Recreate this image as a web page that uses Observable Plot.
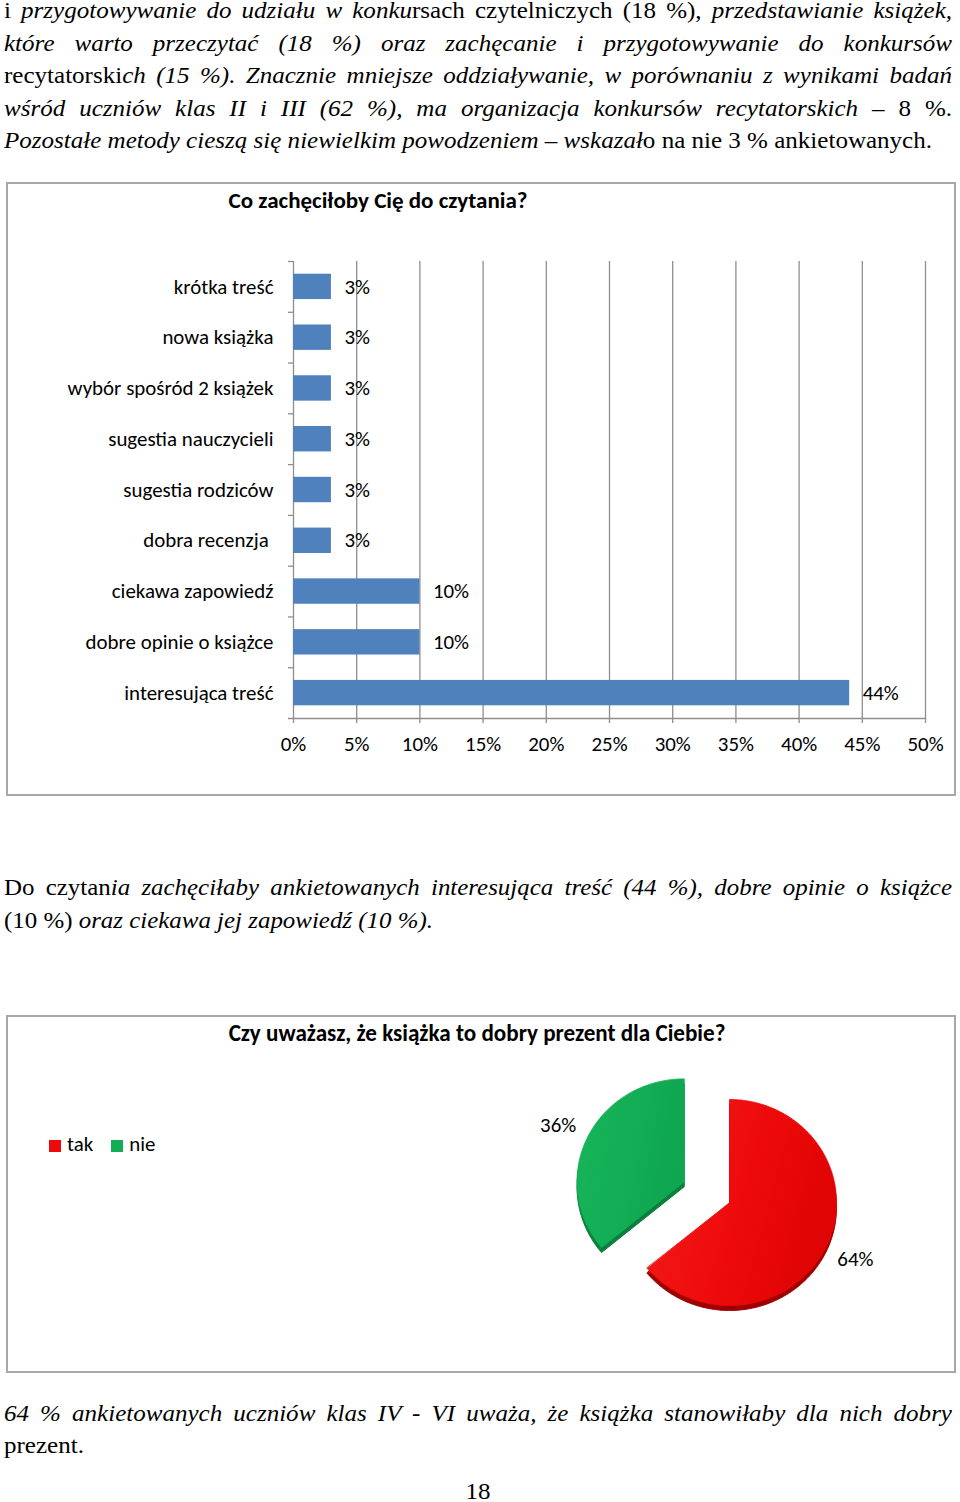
<!DOCTYPE html>
<html lang="pl">
<head>
<meta charset="utf-8">
<script src="https://cdn.jsdelivr.net/npm/d3@7"></script>
<script src="https://cdn.jsdelivr.net/npm/@observablehq/plot@0.6"></script>
<style>
  html, body { margin: 0; padding: 0; background: #fff; }
  body { width: 960px; height: 1502px; position: relative; overflow: hidden; color: #000; }
  .para { position: absolute; left: 4px; width: 948px; transform-origin: 0 0;
          font-family: "Liberation Serif", "Times New Roman", serif; font-size: 24px; line-height: 32.6px; }
  .para div { white-space: nowrap; }
  .para .j { text-align: justify; text-align-last: justify; }
  .para i { font-style: italic; }
  .box { position: absolute; left: 6px; width: 950px; box-sizing: border-box; border: 2px solid #a8a8a8; }
  .ctitle { position: absolute; font-family: Carlito, Calibri, Lato, sans-serif; font-weight: bold; font-size: 20px;
            line-height: 26px; text-align: center; white-space: nowrap; }
  .chart { position: absolute; left: 0; }
  .legend { position: absolute; font-family: Carlito, Calibri, Lato, sans-serif; font-size: 20px; line-height: 24px; white-space: nowrap; }
  .legend span.sw { display: inline-block; width: 12px; height: 12px; margin-right: 6px; vertical-align: -1px; }
  .legend span.it { margin-right: 18px; }
</style>
</head>
<body>

<div class="para" id="p1" style="top:-5.9px">
  <div class="j">i <i>przygotowywanie do udziału w konku</i>rsach czytelniczych (18 %), <i>przedstawianie książek,</i></div>
  <div class="j"><i>które warto przeczytać (18 %) oraz zachęcanie i przygotowywanie do konkursów</i></div>
  <div class="j">recytatorski<i>ch (15 %). Znacznie mniejsze oddziaływanie, w porównaniu z wynikami badań</i></div>
  <div class="j"><i>wśród uczniów klas II i III (62 %), ma organizacja konkursów recytatorskich – </i>8 %.</div>
  <div><span class="m"><i>Pozostałe metody cieszą się niewielkim powodzeniem – wskazał</i>o na nie 3 % ankietowanych.</span></div>
</div>

<div class="box" style="top:182px;height:614px"></div>
<div class="ctitle" id="t1" style="left:78px;width:600px;top:187px"></div>
<div class="chart" id="bar" style="top:182px"></div>

<div class="para" id="p2" style="top:871.3px">
  <div class="j">Do czytan<i>ia zachęciłaby ankietowanych interesująca treść (44 %), dobre opinie o książce</i></div>
  <div><span class="m">(10 %) <i>oraz ciekawa jej zapowiedź (10 %).</i></span></div>
</div>

<div class="box" style="top:1015px;height:358px"></div>
<div class="ctitle" id="t2" style="left:177px;width:600px;top:1020px"></div>
<div class="legend" id="leg" style="left:49px;top:1132px"></div>
<div class="chart" id="pie" style="top:1015px"></div>

<div class="para" id="p3" style="top:1396.6px">
  <div class="j"><i>64 % ankietowanych uczniów klas IV - VI uważa, że książka stanowiłaby dla nich dobry</i></div>
  <div><span class="m">prezent.</span></div>
</div>
<div class="para" id="pn" style="top:1481.9px;line-height:18px;text-align:center"><div>18</div></div>

<script>
// ---------------- data ----------------
const barTitle = "Co zachęciłoby Cię do czytania?";
const barCategories = [
  "krótka treść",
  "nowa książka",
  "wybór spośród 2 książek",
  "sugestia nauczycieli",
  "sugestia rodziców",
  "dobra recenzja",
  "ciekawa zapowiedź",
  "dobre opinie o książce",
  "interesująca treść"
];
const barValues = [3, 3, 3, 3, 3, 3, 10, 10, 44];
const xTicks = [0, 5, 10, 15, 20, 25, 30, 35, 40, 45, 50];

const pieTitle = "Czy uważasz, że książka to dobry prezent dla Ciebie?";
const pieLabels = ["tak", "nie"];
const pieValues = [64, 36];

// ---------------- styles ----------------
const barColor = "#4F81BD";
const gridColor = "#8e8e8e";
const pieColors = ["#EE0A0A", "#12AD55"];
const pieLight = ["#F41E1E", "#17B55A"];
const pieDeep = ["#E00404", "#0EA64E"];
const pieDark = ["#9E0000", "#0B7F3C"];
const chartFont = "Carlito, Calibri, Lato, sans-serif";

// font sizes matched to the reference text widths
const ctx = document.createElement("canvas").getContext("2d");
function sizeFor(text, weight, target) {
  ctx.font = `${weight} 20px Carlito, Calibri, Lato, sans-serif`;
  return 20 * target / ctx.measureText(text).width;
}
const fs = Math.min(22, Math.max(17, sizeFor("wybór spośród 2 książek", "normal", 206)));
const t1fs = Math.min(24, Math.max(18, sizeFor(barTitle, "bold", 299)));
const t2fs = Math.min(24, Math.max(18, sizeFor(pieTitle, "bold", 497)));

// ---------------- paragraph fitting ----------------
function fit(id, target, sOverride) {
  const block = document.getElementById(id);
  let s = sOverride;
  if (s === undefined) {
    const m = block.querySelector(".m");
    s = target / m.getBoundingClientRect().width;
  }
  block.style.width = (948 / s) + "px";
  block.style.transform = `scaleX(${s})`;
  return s;
}
const s1 = fit("p1", 928);
fit("p2", 429);
fit("p3", 0, s1);
fit("pn", 0, s1);

// ---------------- bar chart ----------------
const t1 = document.getElementById("t1");
t1.textContent = barTitle; t1.style.fontSize = t1fs + "px";
const barData = barCategories.map((c, i) => ({category: c, value: barValues[i]}));
const bH = 614, mT = 79, mB = 78, mL = 293, mR = 35;
const step = (bH - mT - mB) / barCategories.length;
const last = barCategories[barCategories.length - 1];

const barPlot = Plot.plot({
  width: 960, height: bH,
  marginTop: mT, marginBottom: mB, marginLeft: mL, marginRight: mR,
  style: {fontFamily: chartFont, fontSize: fs + "px", color: "#000", background: "transparent", overflow: "visible"},
  x: {domain: [0, 50], ticks: xTicks, tickFormat: d => d + "%", tickSize: 5, tickPadding: 13, label: null},
  y: {domain: barCategories, paddingInner: 0.5, paddingOuter: 0.25, round: false, tickSize: 0, tickPadding: 20, label: null,
      tickFormat: d => d === "dobra recenzja" ? d + "\u00a0" : d},
  marks: [
    Plot.ruleX(xTicks, {x: d => d, stroke: gridColor, strokeWidth: 1.3}),
    Plot.barX(barData, {x: "value", y: "category", fill: barColor}),
    Plot.ruleY(barCategories, {y: d => d, x1: -0.4, x2: 0, dy: -step / 2, stroke: gridColor, strokeWidth: 1.3}),
    Plot.ruleY([last], {y: d => d, x1: -0.4, x2: 50, dy: step / 2, stroke: gridColor, strokeWidth: 1.3}),
    Plot.text(barData, {x: "value", y: "category", text: d => d.value + "%", dx: 13, textAnchor: "start",
                        fontSize: fs, fill: "#000"})
  ]
});
document.getElementById("bar").appendChild(barPlot);
barPlot.querySelectorAll('[aria-label^="x-axis"] line, [aria-label^="x-axis"] path').forEach(el => {
  el.setAttribute("stroke", gridColor); el.style.stroke = gridColor; el.setAttribute("stroke-width", 1.3);
});

// ---------------- pie chart ----------------
const t2 = document.getElementById("t2");
t2.textContent = pieTitle; t2.style.fontSize = t2fs + "px";
const leg = document.getElementById("leg");
leg.style.fontSize = fs + "px";
pieLabels.forEach((l, i) => {
  const sw = document.createElement("span"); sw.className = "sw"; sw.style.background = pieColors[i];
  const tx = document.createElement("span"); tx.className = "it"; tx.textContent = l;
  leg.appendChild(sw); leg.appendChild(tx);
});

const pieData = pieLabels.map((l, i) => ({key: l, value: pieValues[i]}));
const arcs = d3.pie().sort(null).value(d => d.value)(pieData);
const explode = [0, 0.47];
const slices = arcs.map((a, i) => {
  const mid = (a.startAngle + a.endAngle) / 2;
  const ox = explode[i] * Math.sin(mid), oy = explode[i] * Math.cos(mid);
  const n = Math.ceil((a.endAngle - a.startAngle) / (Math.PI / 180));
  const pts = [{x: ox, y: oy}];
  for (let k = 0; k <= n; k++) {
    const t = a.startAngle + (a.endAngle - a.startAngle) * k / n;
    pts.push({x: ox + Math.sin(t), y: oy + Math.cos(t)});
  }
  const label = {x: ox + 1.3 * Math.sin(mid), y: oy + 1.3 * Math.cos(mid), text: a.data.value + "%"};
  return {pts, label};
});

const pH = 358, cx = 729, cy = 187, rx = 107, ry = 103;
const pieMarks = [];
slices.forEach((s, i) => pieMarks.push(Plot.line(s.pts, {x: "x", y: "y", curve: "linear-closed", fill: pieDark[i], stroke: pieDark[i], strokeWidth: 1, dy: 5})));
slices.forEach((s, i) => pieMarks.push(Plot.line(s.pts, {x: "x", y: "y", curve: "linear-closed", fill: `url(#pieGrad${i})`, stroke: pieColors[i], strokeWidth: 0.8})));
pieMarks.push(Plot.text(slices.map(s => s.label), {x: "x", y: "y", text: "text", fontSize: fs, fill: "#000"}));

const piePlot = Plot.plot({
  width: 960, height: pH, margin: 0,
  style: {fontFamily: chartFont, fontSize: fs + "px", color: "#000", background: "transparent", overflow: "visible"},
  x: {domain: [-1, 1], range: [cx - rx, cx + rx], axis: null},
  y: {domain: [-1, 1], range: [cy + ry, cy - ry], axis: null},
  marks: pieMarks
});
// gradient shading of the slices (soft light from the left)
const defs = d3.select(piePlot).insert("defs", ":first-child");
pieColors.forEach((c, i) => {
  const g = defs.append("linearGradient").attr("id", `pieGrad${i}`).attr("x1", "0").attr("y1", "0").attr("x2", "1").attr("y2", "0.3");
  g.append("stop").attr("offset", "0").attr("stop-color", pieLight[i]);
  g.append("stop").attr("offset", "0.6").attr("stop-color", c);
  g.append("stop").attr("offset", "1").attr("stop-color", pieDeep[i]);
});
document.getElementById("pie").appendChild(piePlot);
</script>
</body>
</html>
